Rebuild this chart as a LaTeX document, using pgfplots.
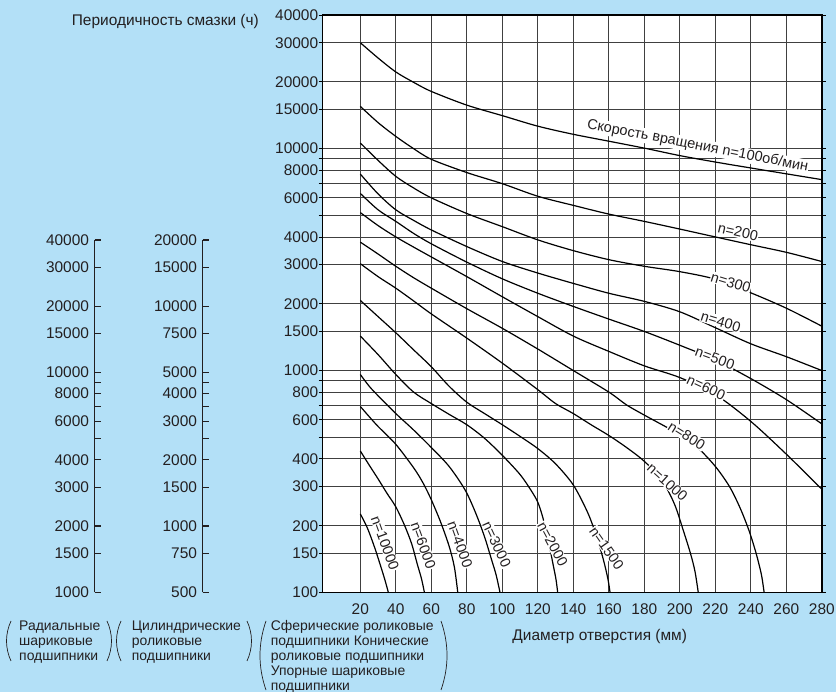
\documentclass[border=0pt]{standalone}
\usepackage{fontspec}
\setmainfont{Liberation Sans}
\usepackage{pgfplots}
\pgfplotsset{compat=1.18}
\definecolor{bgblue}{RGB}{179,224,247}
\definecolor{ink}{RGB}{35,31,32}
\newcommand{\tl}{\fontsize{15.5}{18}\selectfont}
\newcommand{\gl}{\fontsize{14}{15}\selectfont}
\newcommand{\cl}{\fontsize{14.5}{16}\selectfont}
\tikzset{lbl/.style={fill=white, inner sep=0.6bp, font=\cl, text=ink},
  curve/.style={black, solid, line width=1.2bp, smooth, tension=0.5}}

\begin{document}
\begin{tikzpicture}
\fill[bgblue] (0bp,0bp) rectangle (836bp,692bp);
\useasboundingbox (0bp,0bp) rectangle (836bp,692bp);

% radial ball bearings scale
\begin{axis}[scale only axis, width=1bp, height=352.2bp, anchor=south west,
    at={(94.7bp,99.8bp)}, ymode=log, ymin=1000, ymax=40000, xmin=0, xmax=1,
    axis x line=none, axis y line=left, clip=false,
    axis line style={-, ink, line width=1.2bp},
    tick align=inside, major tick length=6bp, minor tick num=0,
    ytick style={ink, line width=1.2bp},
    yticklabel style={font=\tl, text=ink, xshift=-2.2bp},
  ytick={1000,1500,2000,3000,4000,5000,6000,7000,8000,9000,10000,15000,20000,30000,40000},
  yticklabels={1000,1500,2000,3000,4000,,6000,,8000,,10000,15000,20000,30000,40000}]
\addplot[ink, line width=1.3bp, no markers] coordinates {(0,1000)(0,40000)};
\draw[ink, line width=1.3bp] (axis cs:0,1000) -- (axis cs:0,40000);
\end{axis}

% cylindrical roller bearings scale
\begin{axis}[scale only axis, width=1bp, height=352.2bp, anchor=south west,
    at={(202.7bp,99.8bp)}, ymode=log, ymin=500, ymax=20000, xmin=0, xmax=1,
    axis x line=none, axis y line=left, clip=false,
    axis line style={-, ink, line width=1.2bp},
    tick align=inside, major tick length=6bp, minor tick num=0,
    ytick style={ink, line width=1.2bp},
    yticklabel style={font=\tl, text=ink, xshift=-2.2bp},
  ytick={500,750,1000,1500,2000,2500,3000,3500,4000,4500,5000,7500,10000,15000,20000},
  yticklabels={500,750,1000,1500,2000,,3000,,4000,,5000,7500,10000,15000,20000}]
\addplot[ink, line width=1.3bp, no markers] coordinates {(0,500)(0,20000)};
\draw[ink, line width=1.3bp] (axis cs:0,500) -- (axis cs:0,20000);
\end{axis}

% main chart
\begin{axis}[scale only axis, at={(322.7bp,99.5bp)}, anchor=south west,
  width=499.1bp, height=577.5bp,
  xmin=-1.2, xmax=280, ymode=log, ymin=100, ymax=40000,
  axis background/.style={fill=white},
  axis line style={black, line width=1.5bp},
  xtick={20,40,60,80,100,120,140,160,180,200,220,240,260,280},
  xticklabels={20,40,60,80,100,120,140,160,180,200,220,240,260,280},
  ytick={100,150,200,300,400,500,600,700,800,900,1000,1500,2000,3000,4000,5000,6000,7000,8000,9000,10000,15000,20000,30000,40000},
  yticklabels={100,150,200,300,400,,600,,800,,1000,1500,2000,3000,4000,,6000,,8000,,10000,15000,20000,30000,40000},
  grid=major, major grid style={black!75, line width=0.85bp},
  tick align=outside, major tick length=4bp, minor tick num=0,
  xtick style={draw=none}, ytick style={black, line width=0.85bp},
  tick label style={font=\tl, text=ink},
  xticklabel style={yshift=-4bp}, yticklabel style={xshift=3bp},
  clip mode=individual]

% n=100
\addplot[curve] coordinates {(20,30000)(30,25600)(40,22150)(50,19900)(60,18100)(80,15700)(100,14080)(120,12620)(140,11600)(160,10800)(180,10050)(200,9300)(220,8700)(240,8180)(260,7700)(280,7250)};
% n=200
\addplot[curve] coordinates {(20,15500)(30,13100)(40,11350)(50,10000)(60,8950)(80,7800)(100,6950)(120,6100)(140,5550)(160,5070)(180,4700)(200,4340)(220,4000)(240,3690)(260,3410)(280,3100)};
% n=300
\addplot[curve] coordinates {(20,10600)(30,8850)(40,7500)(50,6650)(60,6000)(80,5100)(100,4450)(120,3880)(140,3470)(160,3160)(180,2950)(200,2790)(220,2580)(240,2240)(260,1910)(280,1585)};
% n=400
\addplot[curve] coordinates {(20,7680)(30,6250)(40,5300)(50,4750)(60,4300)(80,3620)(100,3100)(120,2750)(140,2470)(160,2230)(180,2050)(200,1840)(220,1560)(240,1320)(260,1155)(280,1000)};
% n=500
\addplot[curve] coordinates {(20,6280)(30,5300)(40,4700)(50,4150)(60,3725)(80,3080)(100,2590)(120,2230)(140,1945)(160,1706)(180,1500)(200,1300)(220,1117)(240,920)(260,740)(280,575)};
% n=600
\addplot[curve] coordinates {(20,5150)(30,4500)(40,4000)(50,3600)(60,3250)(80,2650)(100,2150)(120,1750)(140,1430)(160,1220)(180,1050)(200,930)(220,780)(240,590)(260,420)(280,292)};
% n=800
\addplot[curve] coordinates {(20,3790)(30,3350)(40,2950)(50,2620)(60,2350)(80,1900)(100,1550)(120,1250)(140,1000)(160,800)(170,700)(180,630)(190,570)(200,515)(210,450)(220,370)(228,300)(234,240)(239,190)(243,150)(246,120)(247.5,100)};
% n=1000
\addplot[curve] coordinates {(20,3030)(30,2650)(40,2350)(50,2060)(60,1800)(80,1400)(100,1080)(120,820)(130,710)(140,640)(150,570)(160,510)(170,450)(180,390)(190,320)(197,250)(202,190)(206,150)(208.5,125)(210.4,100)};
% n=1500
\addplot[curve] coordinates {(20,2070)(30,1750)(40,1480)(50,1240)(60,1040)(70,850)(80,720)(90,640)(100,570)(110,505)(120,445)(130,380)(140,305)(148,230)(153,180)(157,140)(159.5,115)(160.7,100)};
% n=2000
\addplot[curve] coordinates {(20,1430)(30,1180)(40,960)(50,800)(60,710)(70,635)(80,570)(90,495)(100,415)(110,340)(116,290)(120,255)(123,215)(126,170)(128.5,135)(130.2,115)(131.2,100)};
% n=3000
\addplot[curve] coordinates {(20,960)(25,850)(30,770)(40,640)(50,540)(60,450)(70,370)(79,290)(85,228)(90,178)(94,140)(96.5,120)(98.7,100)};
% n=4000
\addplot[curve] coordinates {(20,689)(25,620)(30,560)(40,465)(50,365)(55,315)(59.5,267)(65,210)(70,162)(73,130)(74.9,100)};
% n=6000
\addplot[curve] coordinates {(20,434)(25,375)(30,325)(35,280)(40,243)(45,200)(49,165)(52,135)(54.5,115)(56.1,100)};
% n=10000
\addplot[curve] coordinates {(20,226)(24,195)(28,160)(31,135)(33.7,115)(35.8,100)};

\node[lbl, rotate=-11] at (axis cs:210,10280) {Скорость вращения n=100об/мин};
\node[lbl, rotate=-13] at (axis cs:232.8,4212) {n=200};
\node[lbl, rotate=-17] at (axis cs:228.7,2490) {n=300};
\node[lbl, rotate=-17] at (axis cs:223.1,1660) {n=400};
\node[lbl, rotate=-20] at (axis cs:219.8,1136) {n=500};
\node[lbl, rotate=-25] at (axis cs:214.8,840) {n=600};
\node[lbl, rotate=-32] at (axis cs:203.9,509) {n=800};
\node[lbl, rotate=-42] at (axis cs:193,314) {n=1000};
\node[lbl, rotate=-55] at (axis cs:158.8,158) {n=1500};
\node[lbl, rotate=-62] at (axis cs:128.3,165) {n=2000};
\node[lbl, rotate=-65] at (axis cs:96.8,165) {n=3000};
\node[lbl, rotate=-70] at (axis cs:76.2,165) {n=4000};
\node[lbl, rotate=-70] at (axis cs:55.5,163) {n=6000};
\node[lbl, rotate=-70] at (axis cs:33.9,167) {n=10000};
\end{axis}

% titles
\node[anchor=base, font=\tl, text=ink] at (165.3bp,666bp) {Периодичность смазки (ч)};
\node[anchor=base, font=\tl, text=ink] at (599.7bp,51bp) {Диаметр отверстия (мм)};

% bearing groups
\begin{scope}[every node/.style={anchor=base west, inner sep=0, font=\gl, text=ink}]
\node at (19bp,61.3bp) {Радиальные};
\node at (19bp,46.3bp) {шариковые};
\node at (19bp,31.3bp) {подшипники};
\node at (131.7bp,61.3bp) {Цилиндрические};
\node at (131.7bp,46.3bp) {роликовые};
\node at (131.7bp,31.3bp) {подшипники};
\node at (270.7bp,61.3bp) {Сферические роликовые};
\node at (270.7bp,46.3bp) {подшипники Конические};
\node at (270.7bp,31.3bp) {роликовые подшипники};
\node at (270.7bp,16.3bp) {Упорные шариковые};
\node at (270.7bp,1.3bp) {подшипники};
\end{scope}
\begin{scope}[ink, line width=0.7bp]
\draw (11bp,71bp) .. controls (5bp,58bp) and (5bp,44bp) .. (11bp,31bp);
\draw (107bp,71bp) .. controls (113bp,58bp) and (113bp,44bp) .. (107bp,31bp);
\draw (121bp,71bp) .. controls (115bp,58bp) and (115bp,44bp) .. (121bp,31bp);
\draw (247bp,71bp) .. controls (253bp,58bp) and (253bp,44bp) .. (247bp,31bp);
\draw (266bp,71bp) .. controls (258bp,48bp) and (258bp,25bp) .. (266bp,2bp);
\draw (441bp,71bp) .. controls (449bp,48bp) and (449bp,25bp) .. (441bp,2bp);
\end{scope}
\end{tikzpicture}
\end{document}
